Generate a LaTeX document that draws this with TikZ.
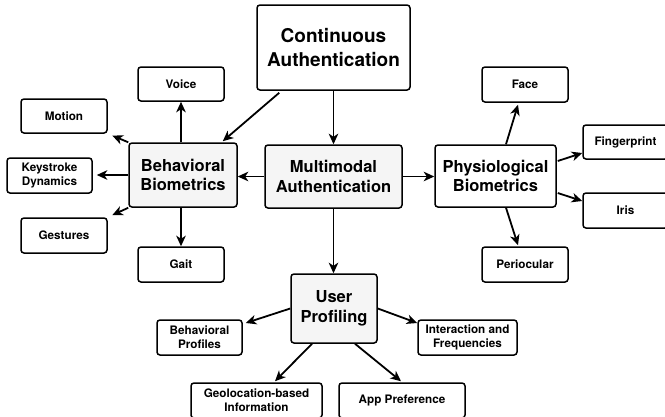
\documentclass[tikz,border=0pt]{standalone}
\usepackage{fontspec}
\setmainfont{TeX Gyre Heros}
\usetikzlibrary{arrows.meta,calc}
\begin{document}
\begin{tikzpicture}[x=1pt,y=-1pt,
 box/.style={draw, line width=1.5pt, rounded corners=3pt, align=center, inner sep=0pt},
 small/.style={box, fill=white, font=\fontsize{11.7}{14.3}\selectfont\bfseries},
 mid/.style={box, font=\fontsize{16.5}{19.7}\selectfont\bfseries},
 big/.style={box, fill=white, font=\fontsize{19}{23.3}\selectfont\bfseries},
 gray/.style={fill=black!4},
 arr/.style={-{Stealth[length=10.5pt,width=9.5pt,inset=3pt]}, line width=1.8pt}]
\useasboundingbox (0,0) rectangle (665,416);

\node[big, minimum width=153pt, minimum height=85pt] (cont) at (333.5,47.5) {Continuous\\Authentication};
\node[mid, gray, minimum width=108pt, minimum height=64pt] (beh) at (183,175) {Behavioral\\Biometrics};
\node[mid, gray, minimum width=137pt, minimum height=63pt] (multi) at (333.5,176.5) {Multimodal\\Authentication};
\node[mid, fill=white, minimum width=121pt, minimum height=62pt] (phys) at (495.5,176) {Physiological\\Biometrics};
\node[mid, gray, minimum width=86pt, minimum height=69pt] (user) at (334,308.5) {User\\Profiling};

\node[small, minimum width=86pt, minimum height=34pt] (voice) at (181,84) {Voice};
\node[small, minimum width=86pt, minimum height=34pt] (motion) at (64,116) {Motion};
\node[small, minimum width=85pt, minimum height=35pt] (key) at (49.5,175.5) {Keystroke\\Dynamics};
\node[small, minimum width=86pt, minimum height=35pt] (gest) at (64,235.5) {Gestures};
\node[small, minimum width=86pt, minimum height=35pt] (gait) at (181,264.5) {Gait};

\node[small, minimum width=86pt, minimum height=35pt] (face) at (525,84.5) {Face};
\node[small, minimum width=85pt, minimum height=34pt] (finger) at (625.5,142) {Fingerprint};
\node[small, minimum width=85pt, minimum height=35pt] (iris) at (625.5,210.5) {Iris};
\node[small, minimum width=86pt, minimum height=35pt] (perio) at (525,264.5) {Periocular};

\node[small, minimum width=85pt, minimum height=35pt] (bprof) at (199.5,337.5) {Behavioral\\Profiles};
\node[small, minimum width=99pt, minimum height=35pt] (inter) at (467.5,337.5) {Interaction and\\Frequencies};
\node[small, minimum width=131pt, minimum height=35pt] (geo) at (256.5,400.5) {Geolocation-based\\Information};
\node[small, minimum width=126pt, minimum height=35pt] (app) at (402,400.5) {App Preference};

% main connectors
\draw[arr] (cont) -- (multi);
\draw[arr] ($(cont.south west)+(23,2)$) -- ($(beh.north east)+(-15,-1)$);
\draw[arr] (multi.west) -- (multi.west -| beh.east);
\draw[arr] (multi.east) -- (multi.east -| phys.west);
\draw[arr] (multi.south) -- (multi.south |- user.north);

% behavioral
\draw[arr] (voice.south |- beh.north) -- (voice.south);
\draw[arr, shorten >=5pt] (beh.north west) -- (motion.south east);
\draw[arr, shorten >=4pt] (beh.west) -- (beh.west -| key.east);
\draw[arr, shorten >=5pt] (beh.south west) -- (gest.north east);
\draw[arr] (gait.north |- beh.south) -- (gait.north);

% physiological
\draw[arr] ($(phys.north)+(10.5,0)$) -- ($(face.south)+(-7,2)$);
\draw[arr] ($(phys.east)+(1,-15)$) -- ($(finger.west)+(0,11)$);
\draw[arr] ($(phys.east)+(1,17)$) -- ($(iris.west)+(0,-9.5)$);
\draw[arr] ($(phys.south)+(10.5,0)$) -- ($(perio.north)+(-7,-1)$);

% user profiling
\draw[arr] (user.west) -- ($(bprof.east)+(3,-14.5)$);
\draw[arr] (user.east) -- ($(inter.west)+(0,-14.5)$);
\draw[arr] ($(user.south)+(-22,0)$) -- ($(geo.north)+(18.5,-1)$);
\draw[arr] ($(user.south)+(21,0)$) -- ($(app.north)+(-1,-1)$);
\end{tikzpicture}
\end{document}
